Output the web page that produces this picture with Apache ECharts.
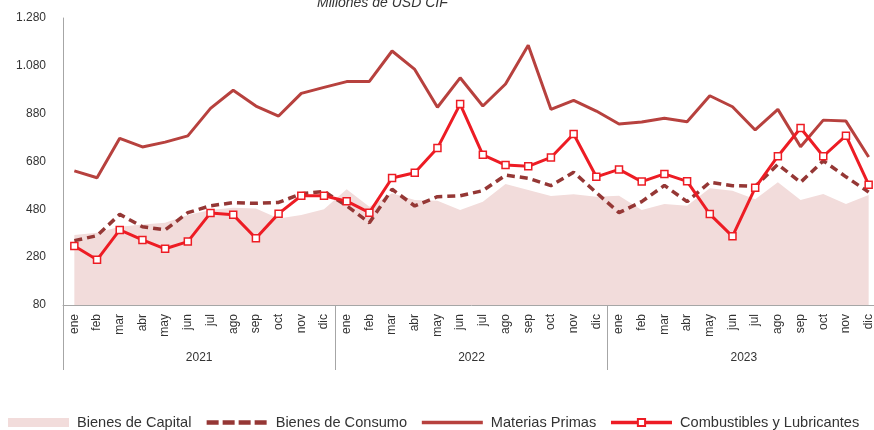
<!DOCTYPE html>
<html>
<head>
<meta charset="utf-8">
<script src="https://cdn.jsdelivr.net/npm/echarts@6/dist/echarts.min.js"></script>
<style>
  html, body { margin: 0; padding: 0; background: #fff; overflow: hidden; }
  /* el gráfico original se corta por la derecha */
  #chart { width: 882px; height: 430px; }
</style>
</head>
<body>
<div id="chart"></div>
<script>
// datos (millones USD CIF)
const months = ['ene','feb','mar','abr','may','jun','jul','ago','sep','oct','nov','dic'];
const years = ['2021', '2022', '2023'];
const categories = years.flatMap(y => months.map(m => m + ' ' + y));

const bienesCapital = [
  373, 382, 407, 417, 424, 456, 477, 487, 484, 442, 456, 480,
  564, 491, 547, 519, 516, 477, 512, 586, 561, 536, 543, 533,
  537, 477, 502, 495, 568, 558, 522, 593, 519, 544, 502, 540
];
const bienesConsumo = [
  349, 370, 459, 407, 394, 466, 495, 508, 505, 509, 545, 555,
  495, 424, 564, 494, 533, 537, 558, 623, 610, 579, 635, 550,
  466, 512, 580, 512, 593, 579, 576, 668, 593, 683, 616, 552
];
const materiasPrimas = [
  641, 612, 777, 741, 761, 787, 902, 978, 912, 870, 965, 990,
  1014, 1015, 1142, 1065, 907, 1030, 912, 1004, 1166, 898, 936, 891,
  837, 845, 861, 846, 955, 909, 812, 898, 742, 853, 849, 699
];
const combustibles = [
  327, 269, 394, 352, 315, 345, 465, 457, 359, 462, 537, 537,
  514, 466, 611, 633, 736, 920, 708, 665, 660, 697, 795, 616,
  647, 596, 628, 597, 460, 367, 570, 702, 820, 702, 788, 583
];

const fontFam = '"Liberation Sans", Arial, sans-serif';
const axisGray = '#a6a6a6';

const chart = echarts.init(document.getElementById('chart'));

const option = {
  animation: false,
  title: {
    text: 'Millones de USD CIF',
    left: 312,
    top: -9,
    textStyle: { fontFamily: fontFam, fontSize: 14, fontStyle: 'italic', fontWeight: 'normal', color: '#333' }
  },
  legend: {
    left: 3,
    top: 410,
    itemWidth: 61,
    itemHeight: 9,
    itemGap: 13,
    textStyle: { fontFamily: fontFam, fontSize: 14.6, color: '#333', padding: [0, 0, 0, 3] },
    data: [
      { name: 'Bienes de Capital', icon: 'rect' },
      { name: 'Bienes de Consumo', itemStyle: { opacity: 0 }, lineStyle: { width: 4.5, type: [12, 4] } },
      { name: 'Materias Primas', itemStyle: { opacity: 0 }, lineStyle: { width: 3.5 } },
      { name: 'Combustibles y Lubricantes', lineStyle: { width: 3.5 } }
    ]
  },
  grid: { left: 63, right: 2, top: 18, bottom: 125 },
  xAxis: [
    {
      type: 'category',
      data: categories,
      axisLine: { lineStyle: { color: axisGray, width: 1 } },
      axisTick: { show: false },
      axisLabel: {
        rotate: 90,
        interval: 0,
        margin: 9,
        fontFamily: fontFam,
        fontSize: 12,
        color: '#333',
        formatter: v => v.split(' ')[0]
      }
    },
    {
      type: 'category',
      data: years,
      position: 'bottom',
      axisLine: { show: false },
      axisTick: { show: true, length: 65, lineStyle: { color: axisGray } },
      axisLabel: { margin: 47, fontFamily: fontFam, fontSize: 12, color: '#333' }
    }
  ],
  yAxis: {
    type: 'value',
    min: 80,
    max: 1280,
    interval: 200,
    splitLine: { show: false },
    axisLine: { show: true, lineStyle: { color: axisGray } },
    axisTick: { show: false },
    axisLabel: {
      margin: 17,
      fontFamily: fontFam,
      fontSize: 12,
      color: '#333',
      formatter: v => v.toString().replace(/\B(?=(\d{3})+(?!\d))/g, '.')
    }
  },
  series: [
    {
      name: 'Bienes de Capital',
      type: 'line',
      data: bienesCapital,
      symbol: 'none',
      itemStyle: { color: '#f2dcdb' },
      lineStyle: { width: 0, color: '#f2dcdb' },
      areaStyle: { color: '#f2dcdb', opacity: 1 },
      z: 1
    },
    {
      name: 'Bienes de Consumo',
      type: 'line',
      data: bienesConsumo,
      symbol: 'none',
      itemStyle: { color: '#953735' },
      lineStyle: { width: 3.5, color: '#953735', type: [8, 5] },
      z: 2
    },
    {
      name: 'Materias Primas',
      type: 'line',
      data: materiasPrimas,
      symbol: 'none',
      itemStyle: { color: '#b7413e' },
      lineStyle: { width: 3, color: '#b7413e' },
      z: 3
    },
    {
      name: 'Combustibles y Lubricantes',
      type: 'line',
      data: combustibles,
      symbol: 'rect',
      symbolSize: 7,
      itemStyle: { color: '#fff', borderColor: '#ed1c24', borderWidth: 1.5 },
      lineStyle: { width: 3, color: '#ed1c24' },
      z: 4
    }
  ]
};

chart.setOption(option);
</script>
</body>
</html>
